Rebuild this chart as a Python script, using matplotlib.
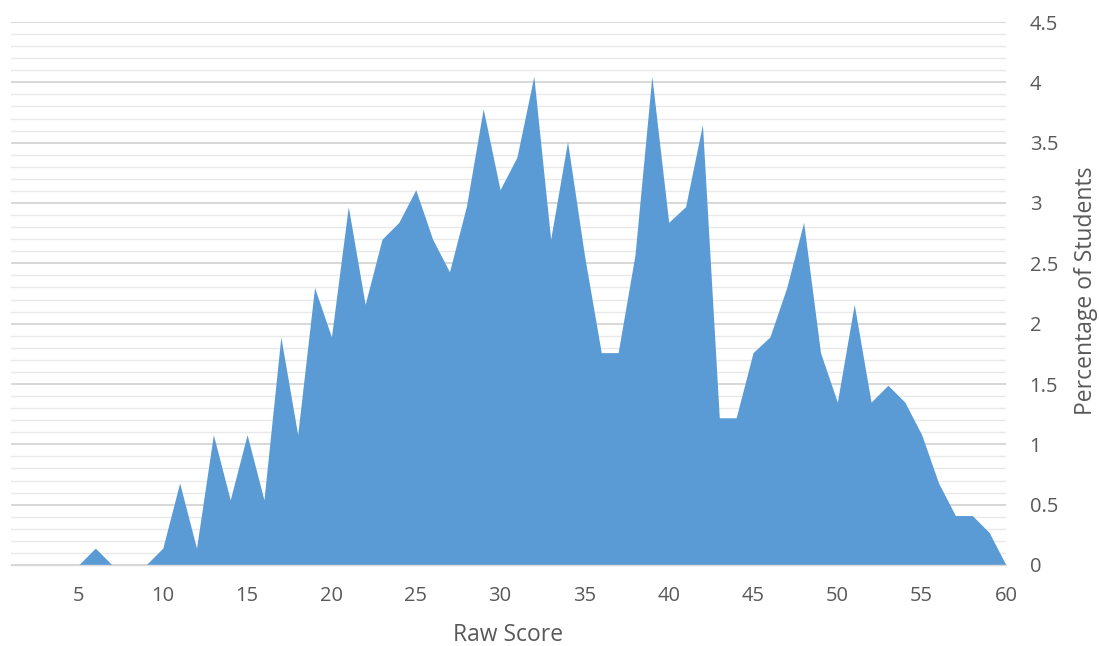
import matplotlib
matplotlib.use("Agg")
import matplotlib.pyplot as plt
from matplotlib.ticker import MultipleLocator, FuncFormatter

scores = list(range(1, 61))
percent = [0, 0, 0, 0, 0, 0.14, 0, 0, 0, 0.14,
           0.68, 0.14, 1.08, 0.54, 1.08, 0.54, 1.89, 1.08, 2.30, 1.89,
           2.97, 2.16, 2.70, 2.84, 3.11, 2.70, 2.43, 2.97, 3.78, 3.11,
           3.38, 4.05, 2.70, 3.51, 2.57, 1.76, 1.76, 2.57, 4.05, 2.84,
           2.97, 3.65, 1.22, 1.22, 1.76, 1.89, 2.30, 2.84, 1.76, 1.35,
           2.16, 1.35, 1.49, 1.35, 1.08, 0.68, 0.41, 0.41, 0.27, 0]
x_ticks = list(range(5, 61, 5))
x_label = "Raw Score"
y_label = "Percentage of Students"

plt.rcParams['font.family'] = ['Open Sans', 'DejaVu Sans']

W, H = 1099, 646
fig = plt.figure(figsize=(W / 100, H / 100), dpi=100)
ax = fig.add_axes([11 / W, 1 - 565 / H, (1006 - 11) / W, (565 - 22) / H])

ax.fill_between(scores, percent, 0, color='#5B9BD5', linewidth=0, zorder=3)

ax.set_xlim(1, 60)
ax.set_ylim(0, 4.5)
ax.yaxis.set_major_locator(MultipleLocator(0.5))
ax.yaxis.set_minor_locator(MultipleLocator(0.1))
ax.yaxis.set_major_formatter(FuncFormatter(lambda v, p: f"{v:g}"))
ax.set_xticks(x_ticks)

ax.grid(which='major', axis='y', color='#d4d4d4', linewidth=1.3, zorder=1)
ax.grid(which='minor', axis='y', color='#e9e9e9', linewidth=1.0, zorder=1)
ax.set_axisbelow(True)

for s in ['top', 'left', 'right']:
    ax.spines[s].set_visible(False)
ax.spines['bottom'].set_color('#d9d9d9')
ax.spines['bottom'].set_linewidth(1.0)
ax.spines['bottom'].set_zorder(4)

ax.yaxis.tick_right()
ax.tick_params(axis='both', which='both', length=0, colors='#595959', labelsize=14.5)
ax.tick_params(axis='y', pad=17)
ax.tick_params(axis='x', pad=15)
for lab in ax.get_yticklabels():
    lab.set_horizontalalignment('left')

fig.text(508 / W, 1 - 635 / H, x_label, fontsize=16.5, color='#595959',
         ha='center', va='center')
fig.text(1086 / W, 1 - 291 / H, y_label, fontsize=16.5, color='#595959',
         ha='center', va='center', rotation=90)

fig.savefig('out.png', dpi=100)
